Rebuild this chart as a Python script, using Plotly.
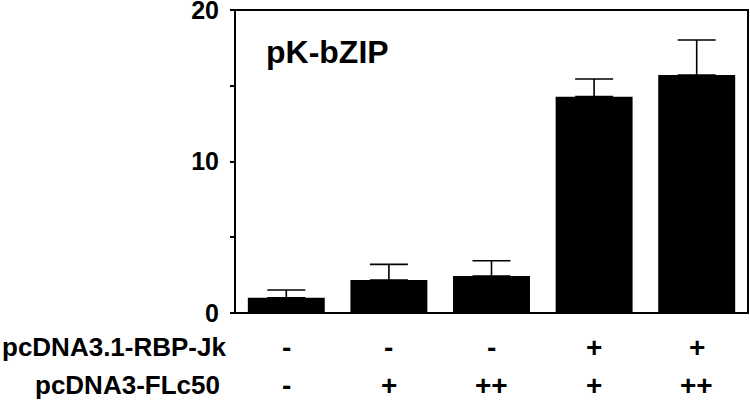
import plotly.graph_objects as go

# reporter activity, five transfection conditions
conditions = ["c1", "c2", "c3", "c4", "c5"]
activity = [1.0, 2.18, 2.44, 14.28, 15.71]
err_up = [0.52, 1.03, 1.01, 1.17, 2.31]
rbp_jk = ["-", "-", "-", "+", "+"]
flc50 = ["-", "+", "++", "+", "++"]
row_names = ["pcDNA3.1-RBP-Jk", "pcDNA3-FLc50"]

FONT = "Liberation Sans, Arial, sans-serif"

fig = go.Figure(go.Bar(
    x=conditions, y=activity,
    marker=dict(color="black", line=dict(width=0)),
    error_y=dict(type="data", symmetric=False, array=err_up,
                 arrayminus=[0] * len(err_up),
                 color="black", thickness=1.6, width=19),
))

row_y = [-0.113, -0.238]
row_x = [-0.0136, -0.0253]
ann = []
for rx, ry, name, signs in zip(row_x, row_y, row_names, [rbp_jk, flc50]):
    ann.append(dict(x=rx, y=ry, xref="paper", yref="paper", text=name,
                    showarrow=False, xanchor="right", yanchor="middle",
                    font=dict(family=FONT, size=26, color="black", weight="bold")))
    for c, s in zip(conditions, signs):
        ann.append(dict(x=c, y=ry, xref="x", yref="paper", text=s,
                        showarrow=False, xanchor="center", yanchor="middle",
                        font=dict(family=FONT, size=28, color="black", weight="bold")))

ann.append(dict(x=0.057, y=0.86, xref="paper", yref="paper", text="pK-bZIP",
                showarrow=False, xanchor="left", yanchor="middle",
                font=dict(family=FONT, size=32, color="black", weight="bold")))

fig.update_layout(
    width=750, height=403,
    margin=dict(l=235, r=2, t=10, b=90),
    plot_bgcolor="white", paper_bgcolor="white",
    showlegend=False, bargap=0.25,
    annotations=ann,
    shapes=[dict(type="rect", xref="paper", yref="paper", x0=0, x1=1, y0=0, y1=1,
                 line=dict(color="black", width=2), layer="above")],
    xaxis=dict(showticklabels=False, ticks="", showline=False, automargin=False,
               showgrid=False, zeroline=False),
    yaxis=dict(range=[0, 20], tickvals=[0, 10, 20], ticks="outside", ticklen=4,
               tickwidth=1.5, tickcolor="black", ticklabeloverflow="allow",
               ticklabelstandoff=6, automargin=False,
               minor=dict(tickvals=[5, 15], ticks="outside", ticklen=4,
                          tickwidth=1.5, tickcolor="black"),
               showline=False, showgrid=False, zeroline=False,
               tickfont=dict(family=FONT, size=25, color="black", weight="bold")),
)

fig.write_html("out.html", config={"displayModeBar": False},
               post_script="document.body.style.margin='0';")
